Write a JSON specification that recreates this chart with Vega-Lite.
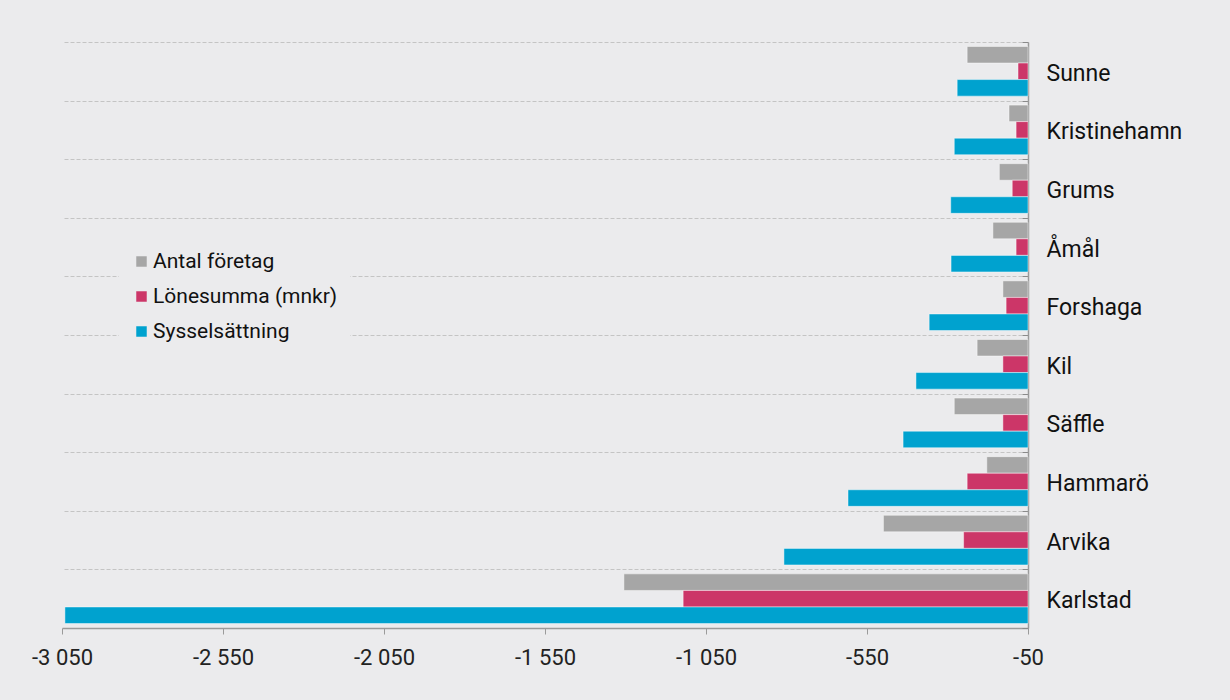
{
  "$schema": "https://vega.github.io/schema/vega-lite/v6.json",
  "width": 966,
  "height": 586,
  "autosize": {"type": "none"},
  "padding": {"left": 62, "top": 42, "right": 202, "bottom": 72},
  "background": "#ebebed",
  "config": {"view": {"stroke": null}, "font": "Roboto"},
  "data": {
    "values": [
      {"kommun": "Sunne", "serie": "Antal företag", "varde": -239},
      {"kommun": "Sunne", "serie": "Lönesumma (mnkr)", "varde": -81},
      {"kommun": "Sunne", "serie": "Sysselsättning", "varde": -270},
      {"kommun": "Kristinehamn", "serie": "Antal företag", "varde": -109},
      {"kommun": "Kristinehamn", "serie": "Lönesumma (mnkr)", "varde": -87},
      {"kommun": "Kristinehamn", "serie": "Sysselsättning", "varde": -279},
      {"kommun": "Grums", "serie": "Antal företag", "varde": -139},
      {"kommun": "Grums", "serie": "Lönesumma (mnkr)", "varde": -99},
      {"kommun": "Grums", "serie": "Sysselsättning", "varde": -290},
      {"kommun": "Åmål", "serie": "Antal företag", "varde": -159},
      {"kommun": "Åmål", "serie": "Lönesumma (mnkr)", "varde": -87},
      {"kommun": "Åmål", "serie": "Sysselsättning", "varde": -289},
      {"kommun": "Forshaga", "serie": "Antal företag", "varde": -128},
      {"kommun": "Forshaga", "serie": "Lönesumma (mnkr)", "varde": -118},
      {"kommun": "Forshaga", "serie": "Sysselsättning", "varde": -357},
      {"kommun": "Kil", "serie": "Antal företag", "varde": -208},
      {"kommun": "Kil", "serie": "Lönesumma (mnkr)", "varde": -128},
      {"kommun": "Kil", "serie": "Sysselsättning", "varde": -398},
      {"kommun": "Säffle", "serie": "Antal företag", "varde": -279},
      {"kommun": "Säffle", "serie": "Lönesumma (mnkr)", "varde": -128},
      {"kommun": "Säffle", "serie": "Sysselsättning", "varde": -438},
      {"kommun": "Hammarö", "serie": "Antal företag", "varde": -178},
      {"kommun": "Hammarö", "serie": "Lönesumma (mnkr)", "varde": -239},
      {"kommun": "Hammarö", "serie": "Sysselsättning", "varde": -609},
      {"kommun": "Arvika", "serie": "Antal företag", "varde": -499},
      {"kommun": "Arvika", "serie": "Lönesumma (mnkr)", "varde": -250},
      {"kommun": "Arvika", "serie": "Sysselsättning", "varde": -808},
      {"kommun": "Karlstad", "serie": "Antal företag", "varde": -1305},
      {"kommun": "Karlstad", "serie": "Lönesumma (mnkr)", "varde": -1121},
      {"kommun": "Karlstad", "serie": "Sysselsättning", "varde": -3041}
    ]
  },
  "mark": {"type": "bar", "stroke": "#ffffff", "strokeWidth": 1, "strokeOpacity": 0.45},
  "encoding": {
    "y": {
      "field": "kommun",
      "type": "nominal",
      "sort": ["Sunne", "Kristinehamn", "Grums", "Åmål", "Forshaga", "Kil", "Säffle", "Hammarö", "Arvika", "Karlstad"],
      "scale": {"paddingInner": 0, "paddingOuter": 0},
      "axis": {
        "orient": "right",
        "title": null,
        "tickBand": "extent",
        "grid": true,
        "gridDash": [4, 2],
        "gridColor": "#c4c4c4",
        "gridWidth": 1,
        "domainColor": "#9a9a9a",
        "domainWidth": 1.5,
        "tickColor": "#8a8a8a",
        "tickSize": -6,
        "labelFontSize": 23,
        "labelColor": "#111111",
        "labelPadding": 24,
        "labelOffset": 2
      }
    },
    "yOffset": {
      "field": "serie",
      "sort": ["Antal företag", "Lönesumma (mnkr)", "Sysselsättning"],
      "scale": {"paddingInner": 0, "paddingOuter": 0.27}
    },
    "x": {
      "field": "varde",
      "type": "quantitative",
      "scale": {"domain": [-3050, -50], "nice": false, "zero": false},
      "axis": {
        "values": [-3050, -2550, -2050, -1550, -1050, -550, -50],
        "title": null,
        "grid": false,
        "labelExpr": "'-' + replace(format(abs(datum.value), ','), ',', ' ')",
        "labelFontSize": 22,
        "labelColor": "#222222",
        "labelFlush": false,
        "labelPadding": 13,
        "domainColor": "#9a9a9a",
        "domainWidth": 1.5,
        "tickColor": "#9a9a9a",
        "tickSize": 6
      }
    },
    "x2": {"datum": -50},
    "color": {
      "field": "serie",
      "type": "nominal",
      "scale": {
        "domain": ["Antal företag", "Lönesumma (mnkr)", "Sysselsättning"],
        "range": ["#a6a6a6", "#cc3668", "#00a2cf"]
      },
      "legend": {
        "title": null,
        "orient": "none",
        "legendX": 57,
        "legendY": 197,
        "fillColor": "#ebebed",
        "padding": 12,
        "labelFontSize": 21,
        "labelColor": "#111111",
        "labelLimit": 400,
        "labelOffset": 1,
        "symbolType": "square",
        "symbolSize": 110,
        "symbolStrokeWidth": 0,
        "rowPadding": 13
      }
    }
  }
}
